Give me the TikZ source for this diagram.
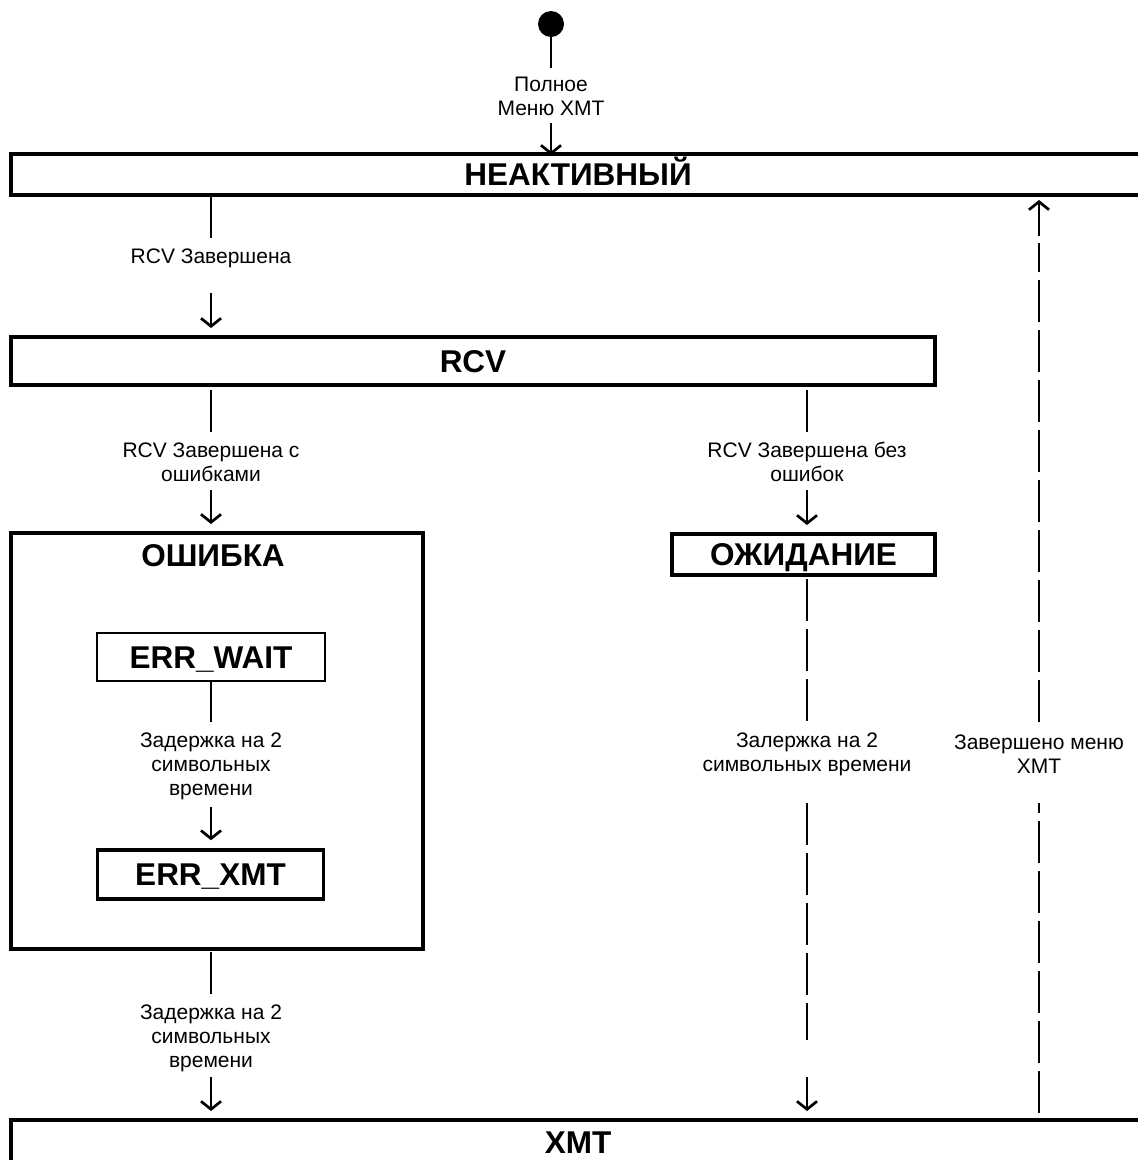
\documentclass[tikz,border=0pt]{standalone}
\usepackage{fontspec}
\setmainfont{Liberation Sans}
\usetikzlibrary{arrows.meta}

\tikzset{
  state/.style={draw,line width=4pt,inner sep=0pt,text height=22pt,text depth=0pt,
    font=\fontsize{31.5}{36}\selectfont\bfseries},
  title/.style={inner sep=0pt,font=\fontsize{31.5}{36}\selectfont\bfseries},
  trans/.style={inner sep=0pt,align=center,font=\fontsize{21}{24}\selectfont},
  wire/.style={line width=2pt},
  dashwire/.style={line width=2pt,dash pattern=on 42pt off 8pt},
  arr/.style={line width=2.7pt,-{Straight Barb[length=8pt,width=20pt]}}
}

\begin{document}
\begin{tikzpicture}[x=1pt,y=-1pt]
\useasboundingbox (0,0) rectangle (1138,1160);

%states
\fill (551,24) circle (13) coordinate (start);
\node[state,minimum width=1134,minimum height=41] (idle) at (578,174) {НЕАКТИВНЫЙ};
\node[state,minimum width=924,minimum height=48] (rcv) at (473,361) {RCV};
\node[state,minimum width=412,minimum height=416] (err) at (217,741) {};
\node[title] (errtitle) at (213,556) {ОШИБКА};
\node[state,minimum width=263,minimum height=41] (wait) at (803.5,554.5) {ОЖИДАНИЕ};
\node[state,line width=2pt,minimum width=228,minimum height=48] (errwait) at (211,657) {ERR\_WAIT};
\node[state,line width=3.5pt,minimum width=226,minimum height=49] (errxmt) at (210.5,874.5) {ERR\_XMT};
\node[state,minimum width=1134,minimum height=44] (xmt) at (578,1142) {XMT};

%transition labels
\node[trans] (t0) at (551,96) {Полное\\Меню XMT};
\node[trans] (t1) at (211,258) {RCV Завершена};
\node[trans] (t2) at (211,462) {RCV Завершена с\\ошибками};
\node[trans] (t3) at (807,462) {RCV Завершена без\\ошибок};
\node[trans] (t4) at (211,766) {Задержка на 2\\символьных\\времени};
\node[trans] (t5) at (807,754) {Залержка на 2\\символьных времени};
\node[trans] (t6) at (1039,754) {Завершено меню\\XMT};
\node[trans] (t7) at (211,1038) {Задержка на 2\\символьных\\времени};

%arrow tails
\coordinate (a0) at (551,123);
\coordinate (a1) at (211,293);
\coordinate (a2) at (211,490);
\coordinate (a3) at (807,490);
\coordinate (a4) at (211,807);
\coordinate (a5) at (807,1077);
\coordinate (a6) at (1039,236);
\coordinate (a7) at (211,1077);
\coordinate (c5) at (807,1040);
\coordinate (c6) at (1039,243);

%solid transitions
\draw[wire,shorten <=13pt,shorten >=8pt] (start) -- (t0.north);
\draw[arr,shorten >=-3.5pt] (a0) -- (idle.north -| a0);
\draw[wire,shorten >=10pt] (idle.south -| t1) -- (t1.north);
\draw[arr,shorten >=7pt] (a1) -- (rcv.north -| a1);
\draw[wire,shorten <=3pt,shorten >=10pt] (rcv.south -| t2) -- (t2.north);
\draw[arr,shorten >=7pt] (a2) -- (err.north -| a2);
\draw[wire,shorten <=3pt,shorten >=10pt] (rcv.south -| t3) -- (t3.north);
\draw[arr,shorten >=7pt] (a3) -- (wait.north -| a3);
\draw[wire,shorten >=10pt] (errwait.south) -- (t4.north);
\draw[arr,shorten >=8pt] (a4) -- (errxmt.north -| a4);
\draw[wire,shorten <=1pt,shorten >=10pt] (err.south -| t7) -- (t7.north);
\draw[arr,shorten >=7pt] (a7) -- (xmt.north -| a7);

%dashed transitions
\draw[dashwire,shorten <=2pt,shorten >=10pt] (wait.south -| t5) -- (t5.north);
\draw[dashwire,shorten <=27pt] (t5.south) -- (c5);
\draw[arr,shorten >=7pt] (a5) -- (xmt.north -| a5);
\draw[dashwire,shorten <=5pt,shorten >=29pt] (xmt.north -| t6) -- (t6.south);
\draw[dashwire,shorten <=12pt] (t6.north) -- (c6);
\draw[arr,shorten >=3.5pt] (a6) -- (idle.south -| a6);

\end{tikzpicture}
\end{document}
